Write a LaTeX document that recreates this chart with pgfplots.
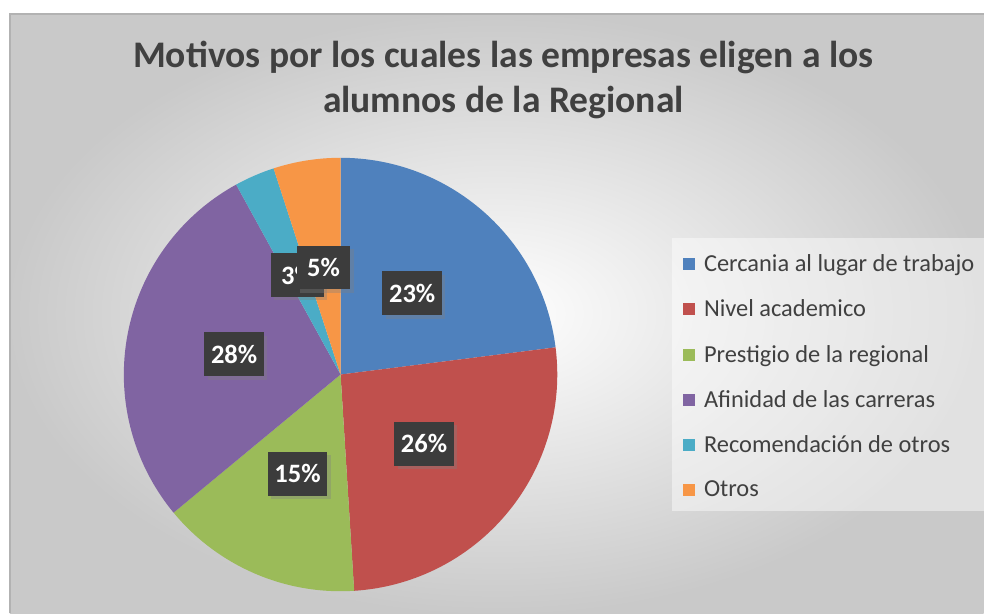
\documentclass[border=0pt]{standalone}
\usepackage{pgfplots}
\pgfplotsset{compat=1.18}
\usepackage{pgfplotstable}
\usepackage{fontspec}
\setmainfont{Carlito}
\usetikzlibrary{shadows}

\definecolor{cblue}{HTML}{4F81BD}
\definecolor{cred}{HTML}{C0504D}
\definecolor{cgreen}{HTML}{9BBB59}
\definecolor{cpurple}{HTML}{8064A2}
\definecolor{ccyan}{HTML}{4BACC6}
\definecolor{corange}{HTML}{F79646}
\definecolor{titlegray}{HTML}{404040}
\definecolor{legtext}{HTML}{404040}
\definecolor{labelbg}{HTML}{3C3C3C}

% percentages, clockwise from 12 o'clock
\pgfplotstableread[col sep=comma]{
name,value,color
Cercania al lugar de trabajo,23,cblue
Nivel academico,26,cred
Prestigio de la regional,15,cgreen
Afinidad de las carreras,28,cpurple
Recomendación de otros,3,ccyan
Otros,5,corange
}\piedata

\begin{document}
\begin{tikzpicture}
\begin{axis}[
  hide axis,
  scale only axis,
  width=738.75bp, height=460.5bp,
  xmin=0, xmax=985, ymin=0, ymax=614,
  clip=false,
  legend style={
    at={(axis cs:676,374)}, anchor=north west,
    draw=none, fill=none,
    font=\fontsize{18.4}{21}\selectfont, text=legtext,
    row sep=15.8bp, inner xsep=6bp, inner ysep=9bp,
    cells={anchor=west},
  },
  legend image code/.code={\fill[#1] (0bp,-4.5bp) rectangle (9bp,4.5bp); \path (13.5bp,0bp);},
]
% background
\fill[white] (axis cs:0,0) rectangle (axis cs:985,614);
\shade[inner color=white, outer color=black!21] (axis cs:10,0) rectangle (axis cs:985,600);
\draw[black!30, line width=0.8bp] (axis cs:10,0) -- (axis cs:10,600) -- (axis cs:985,600);
\fill[white, opacity=0.45] (axis cs:673,102) rectangle (axis cs:985,376);

% title
\node[font=\bfseries\fontsize{28.3}{34}\selectfont, text=titlegray, align=center]
  at (axis cs:504,534) {Motivos por los cuales las empresas eligen a los\\alumnos de la Regional};

% slices
\pgfplotstablegetrowsof{\piedata}
\pgfmathtruncatemacro\nrows{\pgfplotsretval-1}
\gdef\startang{90}
\pgfplotsforeachungrouped \i in {0,...,\nrows}{%
  \pgfplotstablegetelem{\i}{value}\of\piedata \let\val\pgfplotsretval
  \pgfplotstablegetelem{\i}{color}\of\piedata \let\col\pgfplotsretval
  \pgfmathsetmacro\endang{\startang-3.6*\val}
  \pgfmathsetmacro\sx{341+217*cos(\startang)}
  \pgfmathsetmacro\sy{239+217*sin(\startang)}
  \edef\temp{\noexpand\fill[\col] (axis cs:341,239) -- (axis cs:\sx,\sy)
    arc[start angle=\startang, end angle=\endang, radius=162.75bp] -- cycle;}
  \temp
  \xdef\startang{\endang}
}

% data labels
\gdef\startang{90}
\pgfplotsforeachungrouped \i in {0,...,\nrows}{%
  \pgfplotstablegetelem{\i}{value}\of\piedata \let\val\pgfplotsretval
  \pgfmathsetmacro\endang{\startang-3.6*\val}
  \pgfmathsetmacro\lx{341+108.5*cos((\startang+\endang)/2)}
  \pgfmathsetmacro\ly{239+108.5*sin((\startang+\endang)/2)}
  \edef\temp{\noexpand\node[fill=labelbg, text=white, font=\noexpand\bfseries\noexpand\fontsize{20}{22}\noexpand\selectfont,
    minimum width=40bp, minimum height=33bp, inner sep=5bp,
    drop shadow={shadow xshift=2.5bp, shadow yshift=-2.5bp, opacity=0.35}]
    at (axis cs:\lx,\ly) {\val\noexpand\%};}
  \temp
  \xdef\startang{\endang}
}

% legend
\addlegendimage{fill=cblue, draw=none}
\addlegendentry{Cercania al lugar de trabajo}
\addlegendimage{fill=cred, draw=none}
\addlegendentry{Nivel academico}
\addlegendimage{fill=cgreen, draw=none}
\addlegendentry{Prestigio de la regional}
\addlegendimage{fill=cpurple, draw=none}
\addlegendentry{Afinidad de las carreras}
\addlegendimage{fill=ccyan, draw=none}
\addlegendentry{Recomendación de otros}
\addlegendimage{fill=corange, draw=none}
\addlegendentry{Otros}
\end{axis}
\end{tikzpicture}
\end{document}
